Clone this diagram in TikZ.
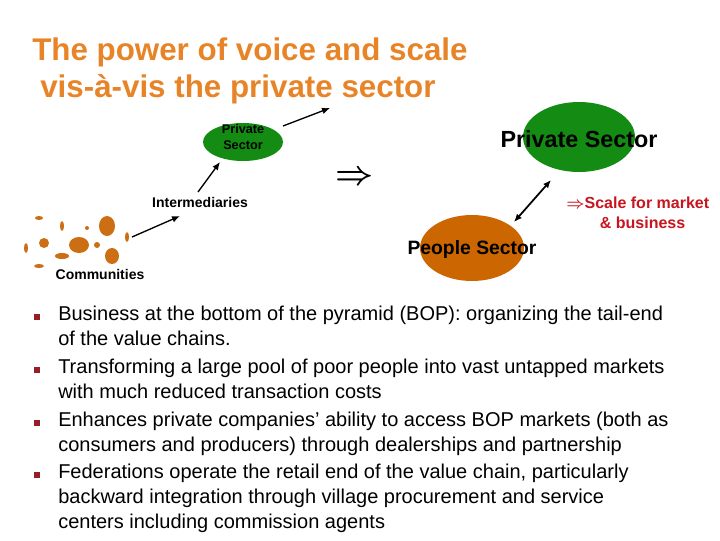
\documentclass[tikz,border=0pt]{standalone}
\usepackage{fontspec}
\setmainfont{Liberation Sans}
\usepackage{amsmath}
\usetikzlibrary{arrows.meta,shapes.geometric}
\definecolor{ttl}{RGB}{232,132,40}
\definecolor{grn}{RGB}{20,140,20}
\definecolor{org}{RGB}{204,102,0}
\definecolor{blob}{RGB}{204,110,20}
\definecolor{redt}{RGB}{200,20,30}
\definecolor{bul}{RGB}{150,30,40}
\tikzset{arr/.style={-{Latex[length=6pt,width=5pt]},line width=1pt},
 small/.style={font=\fontsize{10.5}{12}\selectfont\bfseries},
 bl/.style={fill=blob,draw=none},
 body/.style={anchor=north west,align=left,font=\fontsize{15}{18.5}\selectfont,inner sep=0pt},
 bsq/.style={fill=bul,minimum size=5pt,inner sep=0pt}}
\begin{document}
\begin{tikzpicture}[x=0.75pt,y=-0.75pt]
\useasboundingbox (0,0) rectangle (720,540);
\node[anchor=west,text=ttl,font=\fontsize{23.5}{25}\selectfont\bfseries,inner sep=0pt] (t1) at (32,52) {The power of voice and scale};
\node[anchor=west,text=ttl,font=\fontsize{23.5}{25}\selectfont\bfseries,inner sep=0pt] (t2) at (40,89) {vis-à-vis the private sector};
% left diagram
\node[ellipse,fill=grn,minimum width=60pt,minimum height=28.5pt,inner sep=0pt] (ps) at (243,142) {};
\node[small,align=center,font=\fontsize{9.5}{12.5}\selectfont\bfseries] (pst) at (243,137) {Private\\Sector};
\coordinate (psout) at (330,108);
\draw[arr] (283,126) -- (psout);
\node[small] (int) at (200,202) {Intermediaries};
\draw[arr] (198,192) -- (220,162);
\node[small] (com) at (100,274) {Communities};
\coordinate (comout) at (132,237);
\draw[arr] (comout) -- (180,216);
\foreach \x/\y/\a/\b in {39/218/4/2,62/226/2/5,87/228/2/2,107/226/8/10,127/237/2/5,44/243/5/5,79/245/10/8,97/245/3/3,26/248/2/5,62/256/7/3,112/256/7/8,39/266/5/2}
 \fill[bl] (\x,\y) ellipse [x radius=\a*0.75pt, y radius=\b*0.75pt];
\node[font=\fontsize{24}{24}\selectfont] (imp) at (355,178) {$\boldsymbol{\Rightarrow}$};
% right diagram
\node[ellipse,fill=grn,minimum width=84pt,minimum height=52.5pt,inner sep=0pt] (bp) at (579,137) {};
\node[font=\fontsize{17.5}{18}\selectfont\bfseries] (bpt) at (579,139) {Private Sector};
\node[ellipse,fill=org,minimum width=78pt,minimum height=49.5pt,inner sep=0pt] (pe) at (472,248) {};
\node[font=\fontsize{14.5}{16}\selectfont\bfseries] (pet) at (472,249) {People Sector};
\coordinate (a1) at (551,180); \coordinate (a2) at (514,222);
\draw[{Latex[length=6pt,width=5pt]}-{Latex[length=6pt,width=5pt]},line width=1.3pt] (a2) -- (a1);
\node[text=redt,align=left,font=\fontsize{12}{14.5}\selectfont\bfseries,anchor=north west,inner sep=0pt] (sc) at (566,197) {$\boldsymbol{\Rightarrow}$Scale for market\\\hspace{2.1em}\& business};
% bullets
\foreach \y in {317,370,423,475} \node[bsq] at (37,\y) {};
\node[body] (b1) at (58,306) {Business at the bottom of the pyramid (BOP): organizing the tail-end\\of the value chains.};
\node[body] (b2) at (58,359) {Transforming a large pool of poor people into vast untapped markets\\with much reduced transaction costs};
\node[body] (b3) at (58,412) {Enhances private companies’ ability to access BOP markets (both as\\consumers and producers) through dealerships and partnership};
\node[body] (b4) at (58,464) {Federations operate the retail end of the value chain, particularly\\backward integration through village procurement and service\\centers including commission agents};
\end{tikzpicture}
\end{document}
